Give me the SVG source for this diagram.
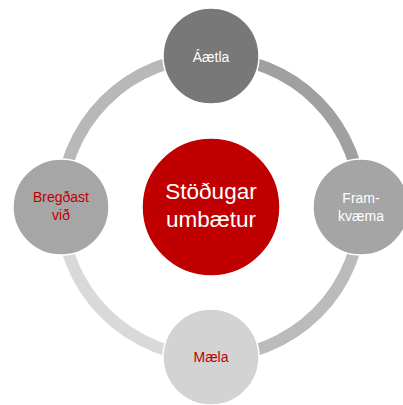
<svg xmlns="http://www.w3.org/2000/svg" width="403" height="405" viewBox="0 0 403 405">
<style>
.arc{fill:none;stroke-width:12}
.node{stroke:#ffffff;stroke-width:1.5}
.t{font-family:"Liberation Sans","Open Sans",Arial,sans-serif;font-size:14px;text-anchor:middle}
.w{fill:#ffffff}
.r{fill:#c00000}
</style>
<rect width="403" height="405" fill="#ffffff"/>
<g id="connectors">
<path class="arc" stroke="#a0a0a0" d="M211,57 A150,150 0 0 1 361,207"/>
<path class="arc" stroke="#bbbbbb" d="M361,207 A150,150 0 0 1 211,357"/>
<path class="arc" stroke="#d9d9d9" d="M211,357 A150,150 0 0 1 61,207"/>
<path class="arc" stroke="#b8b8b8" d="M61,207 A150,150 0 0 1 211,57"/>
</g>
<g id="center">
<circle cx="211" cy="207" r="69" fill="#c00000" stroke="#ffffff" stroke-width="1.5"/>
<text class="t w" x="211" y="199" style="font-size:22.5px">Stöðugar</text>
<text class="t w" x="211" y="227" style="font-size:22.5px">umbætur</text>
</g>
<g id="aaetla">
<circle class="node" cx="211" cy="56" r="48" fill="#787878"/>
<text class="t w" x="211" y="62">Áætla</text>
</g>
<g id="framkvaema">
<circle class="node" cx="361" cy="207" r="48" fill="#a5a5a5"/>
<text class="t w" x="361" y="203">Fram-</text>
<text class="t w" x="361" y="221">kvæma</text>
</g>
<g id="maela">
<circle class="node" cx="211" cy="357" r="48" fill="#d3d3d3"/>
<text class="t r" x="211" y="362">Mæla</text>
</g>
<g id="bregdast">
<circle class="node" cx="61" cy="207" r="48" fill="#a6a6a6"/>
<text class="t r" x="61" y="202">Bregðast</text>
<text class="t r" x="61" y="220">við</text>
</g>
</svg>
